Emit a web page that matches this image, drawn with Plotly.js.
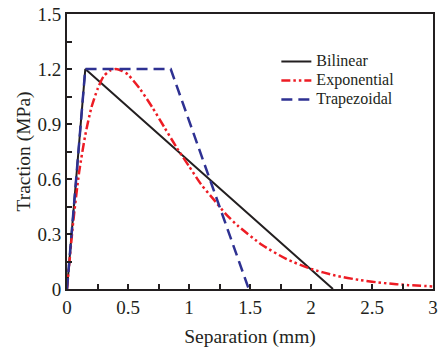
<!DOCTYPE html>
<html>
<head>
<meta charset="utf-8">
<script src="https://cdn.plot.ly/plotly-3.0.1.min.js"></script>
<style>html,body{margin:0;padding:0;background:#fff;}#chart{width:439px;height:348px;}</style>
</head>
<body>
<div id="chart"></div>
<script>
// Data
const bilinearX = [0, 0.15, 2.18];
const bilinearY = [0, 1.2, 0];

const exponentialX = [0, 0.05, 0.1, 0.15, 0.2, 0.25, 0.3, 0.35, 0.4, 0.45, 0.5, 0.6, 0.7, 0.8, 0.9, 1.0, 1.1, 1.2, 1.3, 1.4, 1.6, 1.8, 2.0, 2.2, 2.4, 2.6, 2.8, 3.0];
const exponentialY = [0, 0.36, 0.64, 0.84, 0.99, 1.09, 1.16, 1.19, 1.2, 1.19, 1.17, 1.09, 0.99, 0.88, 0.77, 0.67, 0.57, 0.49, 0.41, 0.345, 0.24, 0.163, 0.11, 0.073, 0.049, 0.032, 0.021, 0.014];

const trapezoidalX = [0, 0.15, 0.85, 1.49];
const trapezoidalY = [0, 1.2, 1.2, 0];

const seriesNames = ["Bilinear", "Exponential", "Trapezoidal"];
const xTickVals = [0, 0.5, 1, 1.5, 2, 2.5, 3];
const xTickText = ["0", "0.5", "1", "1.5", "2", "2.5", "3"];
const yTickVals = [0, 0.3, 0.6, 0.9, 1.2, 1.5];
const yTickText = ["0", "0.3", "0.6", "0.9", "1.2", "1.5"];

const axisColor = "#231f20";
const font = "Liberation Serif";
const legendName = (s) => '<span style="font-size:16px">' + s + '</span>';

const traces = [
  {x: bilinearX, y: bilinearY, name: legendName(seriesNames[0]), mode: "lines",
   line: {color: "#231f20", width: 2}},
  {x: exponentialX, y: exponentialY, name: legendName(seriesNames[1]), mode: "lines",
   line: {color: "#ed1c24", width: 2.5, dash: "9px,3px,2.5px,3px,2.5px,3px", shape: "spline", smoothing: 0.6}},
  {x: trapezoidalX, y: trapezoidalY, name: legendName(seriesNames[2]), mode: "lines",
   line: {color: "#2e3192", width: 2.5, dash: "11px,6px"}}
];

const layout = {
  width: 439, height: 348,
  margin: {l: 66.7, r: 5.7, t: 14, b: 58.7, pad: 0},
  paper_bgcolor: "#fff", plot_bgcolor: "#fff",
  font: {family: font, color: axisColor, size: 19},
  showlegend: true,
  legend: {x: 0.572, y: 0.88, xanchor: "left", yanchor: "top",
           bgcolor: "rgba(0,0,0,0)", font: {size: 11, family: font, color: axisColor},
           itemwidth: 30, tracegroupgap: 0},
  xaxis: {range: [0, 3], tickvals: xTickVals, ticktext: xTickText,
          ticks: "inside", ticklen: 5, tickwidth: 2, tickcolor: axisColor,
          minor: {dtick: 0.25, tick0: 0, ticks: "inside", ticklen: 5, tickwidth: 2, tickcolor: axisColor},
          showline: true, linewidth: 2, linecolor: axisColor, mirror: true,
          showgrid: false, zeroline: false,
          tickfont: {size: 19, family: font, color: axisColor},
          title: {text: "Separation (mm)", font: {size: 19.5, family: font, color: axisColor}, standoff: 14}},
  yaxis: {range: [0, 1.5], tickvals: yTickVals, ticktext: yTickText,
          ticks: "inside", ticklen: 5, tickwidth: 2, tickcolor: axisColor,
          minor: {dtick: 0.15, tick0: 0, ticks: "inside", ticklen: 5, tickwidth: 2, tickcolor: axisColor},
          showline: true, linewidth: 2, linecolor: axisColor, mirror: true,
          showgrid: false, zeroline: false,
          tickfont: {size: 19, family: font, color: axisColor},
          title: {text: "Traction (MPa)", font: {size: 19.5, family: font, color: axisColor}, standoff: 2}}
};

Plotly.newPlot("chart", traces, layout, {staticPlot: true, displayModeBar: false});
</script>
</body>
</html>
